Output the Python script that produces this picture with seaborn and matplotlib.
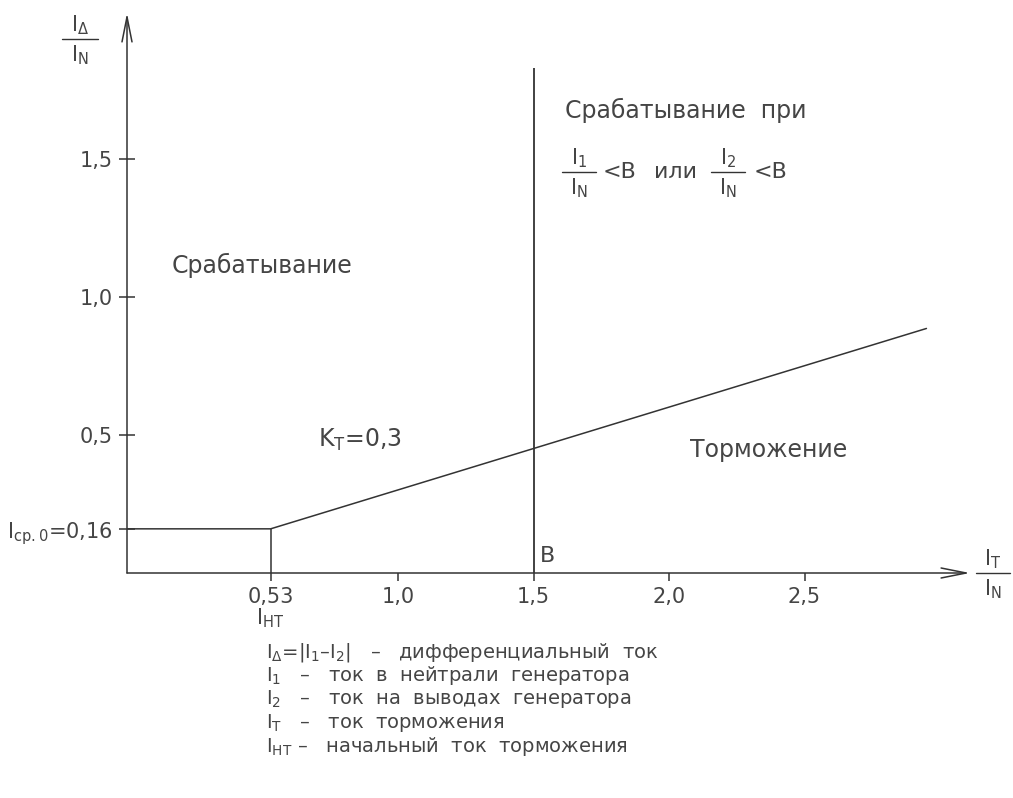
import matplotlib
matplotlib.use("Agg")
import matplotlib.pyplot as plt
import seaborn as sns

# Braking characteristic of the generator differential protection
i_nt = 0.53          # start of braking, I_нт / I_N
i_cp0 = 0.16         # pickup current, I_ср.0 / I_N
k_t = 0.3            # braking slope
b_level = 1.5        # B threshold
b_line_top = 1.83

char_x = [0.0, 0.53, 2.95]
char_y = [0.16, 0.16, 0.886]

x_ticks = [0.53, 1.0, 1.5, 2.0, 2.5]
x_tick_labels = ["0,53", "1,0", "1,5", "2,0", "2,5"]
y_ticks = [0.16, 0.5, 1.0, 1.5]
y_tick_labels = [r"I$_{\mathrm{ср.0}}$=0,16", "0,5", "1,0", "1,5"]

legend_lines = [
    r"I$_{\Delta}$=|I$_1$–I$_2$|   –   дифференциальный  ток",
    r"I$_1$   –   ток  в  нейтрали  генератора",
    r"I$_2$   –   ток  на  выводах  генератора",
    r"I$_{\mathrm{Т}}$   –   ток  торможения",
    r"I$_{\mathrm{НТ}}$ –   начальный  ток  торможения",
]

sns.set_theme(style="white")
plt.rcParams["font.family"] = ["DejaVu Sans"]
plt.rcParams["mathtext.fontset"] = "dejavusans"

INK = "#333333"
TXT = "#454545"

fig = plt.figure(figsize=(10.13, 7.98), dpi=100)
W, H = 1013, 798
x0, y0 = 127, 573          # origin in pixels
sx, sy = 271, 276          # pixels per unit
xmax = (970 - x0) / sx
ymax = (y0 - 13) / sy
ax = fig.add_axes([x0 / W, (H - y0) / H, xmax * sx / W, ymax * sy / H])
ax.set_xlim(0, xmax)
ax.set_ylim(0, ymax)

# characteristic
sns.lineplot(x=char_x, y=char_y, ax=ax, color=INK, lw=1.1,
             sort=False, estimator=None)
ax.vlines(i_nt, 0, i_cp0, color=INK, lw=1.1)
ax.vlines(b_level, 0, b_line_top, color=INK, lw=1.3)

# axes drawn as arrows
for s in ax.spines.values():
    s.set_visible(False)
arrow = dict(arrowstyle="->,head_length=1.8,head_width=0.36", color=INK,
             lw=1.1, shrinkA=0, shrinkB=0, mutation_scale=10)
ax.annotate("", xy=(1, 0), xytext=(0, 0), xycoords="axes fraction",
            textcoords="axes fraction", arrowprops=arrow, annotation_clip=False)
ax.annotate("", xy=(0, 1), xytext=(0, 0), xycoords="axes fraction",
            textcoords="axes fraction", arrowprops=arrow, annotation_clip=False)

ax.set_xticks(x_ticks)
ax.set_xticklabels(x_tick_labels)
ax.set_yticks(y_ticks)
ax.set_yticklabels(y_tick_labels)
ax.tick_params(axis="x", direction="out", length=6, width=1.1, color=INK,
               labelsize=15, labelcolor=TXT, pad=4, bottom=True)
ax.tick_params(axis="y", direction="inout", length=12, width=1.1, color=INK,
               labelsize=15, labelcolor=TXT, pad=4, left=True)
ax.grid(False)


def px(x, y):
    return (x - x0) / sx, (y0 - y) / sy


def put(x, y, s, size=15, ha="left", va="center"):
    ax.text(*px(x, y), s, fontsize=size, color=TXT, ha=ha, va=va,
            clip_on=False)


def frac(xc, yl, num, den, half, size=15, dy_num=14, dy_den=16):
    put(xc, yl - dy_num, num, size=size, ha="center")
    put(xc, yl + dy_den, den, size=size, ha="center")
    xa, ya = px(xc - half, yl)
    xb, _ = px(xc + half, yl)
    ax.plot([xa, xb], [ya, ya], color=INK, lw=1.0, clip_on=False)


# axis titles
frac(80, 39, r"I$_{\Delta}$", r"I$_{\mathrm{N}}$", 18)
frac(993, 573, r"I$_{\mathrm{T}}$", r"I$_{\mathrm{N}}$", 17)
ax.text(i_nt, px(0, 618)[1], r"I$_{\mathrm{НТ}}$", fontsize=15, color=TXT,
        ha="center", va="center", clip_on=False)

# region labels
put(172, 265, "Срабатывание", size=17)
put(565, 110, "Срабатывание  при", size=17)
frac(579, 172, r"I$_1$", r"I$_{\mathrm{N}}$", 17)
put(603, 172, "<B", size=16)
put(654, 172, "или", size=16)
frac(728, 172, r"I$_2$", r"I$_{\mathrm{N}}$", 17)
put(754, 172, "<B", size=16)
put(318, 440, r"K$_{\mathrm{Т}}$=0,3", size=17)
put(690, 450, "Торможение", size=17)
ax.text(b_level + 0.025, 0.025, "B", fontsize=16, color=TXT, ha="left",
        va="bottom")

# notation
for i, line in enumerate(legend_lines):
    put(266, 652 + 23.5 * i, line, size=14)

fig.savefig("out.png", dpi=100)
